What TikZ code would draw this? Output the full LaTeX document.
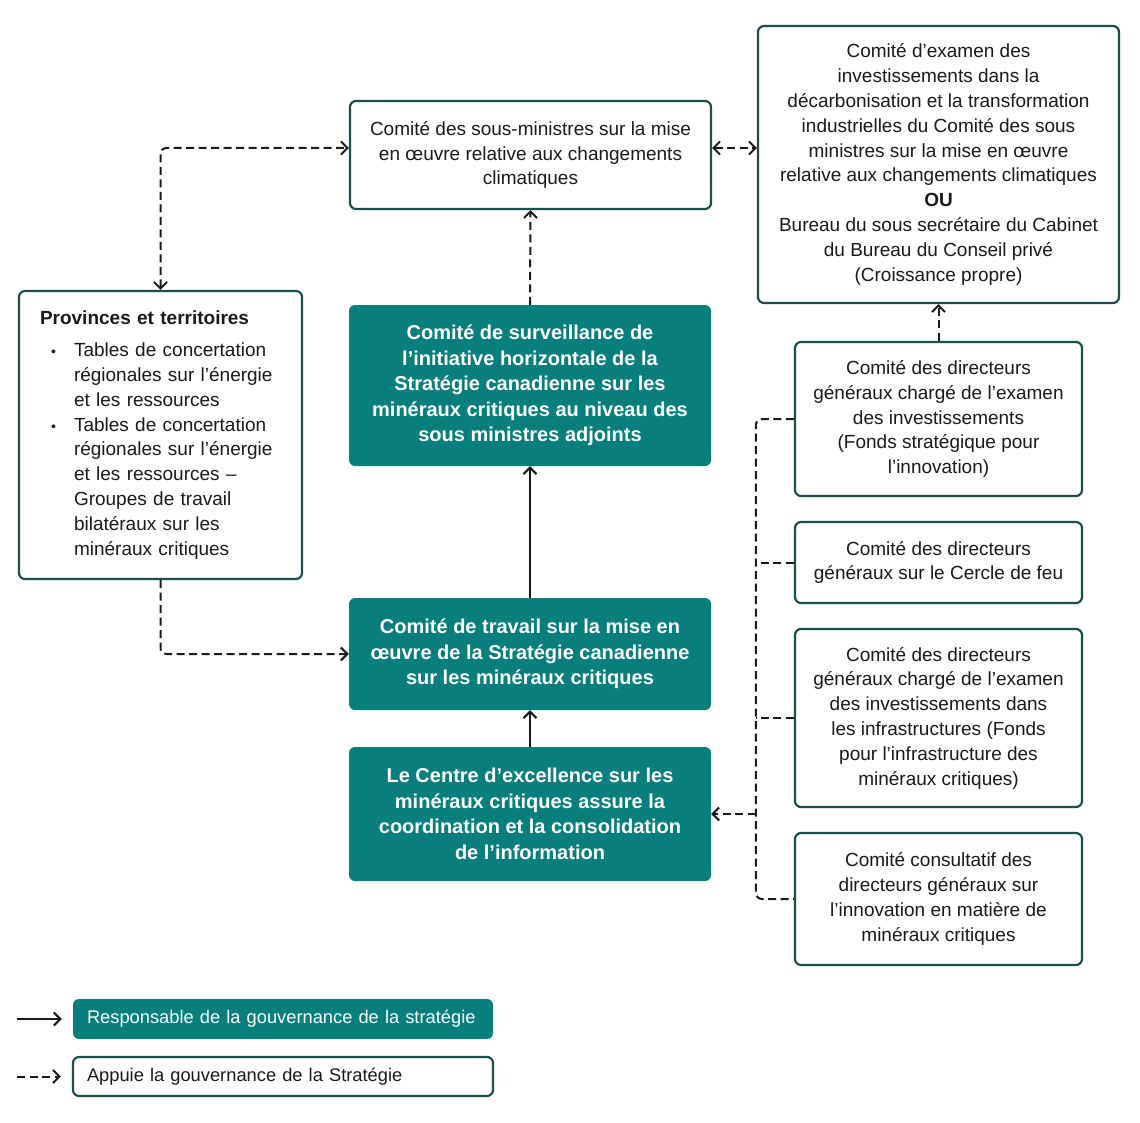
\documentclass[tikz,border=0pt]{standalone}
\usepackage{fontspec}
\setmainfont{Liberation Sans}
\usetikzlibrary{arrows.meta}
\definecolor{teal1}{HTML}{087F7D}
\definecolor{edge}{HTML}{1A4F4C}
\definecolor{ink}{HTML}{1A1A1A}
\newcommand{\bul}{\hspace*{11pt}\makebox[23pt][l]{\fontsize{14}{14}\selectfont •}}
\newcommand{\ind}{\hspace*{34pt}}
\begin{document}
\begin{tikzpicture}[x={(1pt,0pt)},y={(0pt,-1pt)},
  >={Straight Barb[length=6.5pt,width=13pt]},
  wbox/.style={draw=edge,line width=2.2pt,rounded corners=6pt,fill=white,align=center,text=ink,
    font=\fontsize{19}{24.8}\selectfont,inner sep=0pt},
  tbox/.style={fill=teal1,rounded corners=6pt,align=center,text=white,
    font=\fontsize{20}{25.5}\selectfont\bfseries,inner sep=0pt},
  legtext/.style={align=left,text width=392pt,inner xsep=14pt,font=\fontsize{18.3}{24}\selectfont},
  dashline/.style={draw=ink,line width=2pt,dash pattern=on 8pt off 4.5pt},
  solidline/.style={draw=ink,line width=2pt}]
\useasboundingbox (0,0) rectangle (1140,1123);

\node[wbox,minimum width=361pt,minimum height=108pt] (A) at (530.5,155)
  {Comité des sous-ministres sur la mise\\en œuvre relative aux changements\\climatiques};
\node[wbox,minimum width=361pt,minimum height=277pt] (B) at (938.5,164.5)
  {Comité d’examen des\\investissements dans la\\décarbonisation et la transformation\\industrielles du Comité des sous\\ministres sur la mise en œuvre\\relative aux changements climatiques\\\textbf{OU}\\Bureau du sous secrétaire du Cabinet\\du Bureau du Conseil privé\\(Croissance propre)};
\node[wbox,align=left,text width=241pt,inner xsep=21pt,minimum height=288pt] (P) at (160.5,435)
  {\textbf{Provinces et territoires}\\[7pt]
   \bul Tables de concertation\\\ind régionales sur l’énergie\\\ind et les ressources\\
   \bul Tables de concertation\\\ind régionales sur l’énergie\\\ind et les ressources –\\\ind Groupes de travail\\\ind bilatéraux sur les\\\ind minéraux critiques};

\node[tbox,minimum width=362pt,minimum height=161pt] (T1) at (530,385.5)
  {Comité de surveillance de\\l’initiative horizontale de la\\Stratégie canadienne sur les\\minéraux critiques au niveau des\\sous ministres adjoints};
\node[tbox,minimum width=362pt,minimum height=112pt] (T2) at (530,654)
  {Comité de travail sur la mise en\\œuvre de la Stratégie canadienne\\sur les minéraux critiques};
\node[tbox,minimum width=362pt,minimum height=134pt] (T3) at (530,814)
  {Le Centre d’excellence sur les\\minéraux critiques assure la\\coordination et la consolidation\\de l’information};

\node[wbox,minimum width=287pt,minimum height=154pt] (R1) at (938.5,419)
  {Comité des directeurs\\généraux chargé de l’examen\\des investissements\\(Fonds stratégique pour\\l’innovation)};
\node[wbox,minimum width=287pt,minimum height=81pt] (R2) at (938.5,562.5)
  {Comité des directeurs\\généraux sur le Cercle de feu};
\node[wbox,minimum width=287pt,minimum height=178pt] (R3) at (938.5,718)
  {Comité des directeurs\\généraux chargé de l’examen\\des investissements dans\\les infrastructures (Fonds\\pour l’infrastructure des\\minéraux critiques)};
\node[wbox,minimum width=287pt,minimum height=132pt] (R4) at (938.5,899)
  {Comité consultatif des\\directeurs généraux sur\\l’innovation en matière de\\minéraux critiques};

% legend
\node[tbox,legtext,minimum height=40pt] (LT) at (283,1019)
  {Responsable de la gouvernance de la stratégie};
\node[wbox,legtext,minimum height=39pt] (LW) at (283,1076.5)
  {Appuie la gouvernance de la Stratégie};
\coordinate (l1) at (17,1019);
\coordinate (l2) at (17,1076.5);
\draw[solidline,->,shorten >=11pt] (l1) -- (LT.west);
\draw[dashline,->,shorten >=11pt] (l2) -- (LW.west);

% connectors
\coordinate (al) at ([yshift=7pt]A.west);
\coordinate (ar) at ([yshift=7pt]A.east);
\draw[dashline,<->,rounded corners=6pt] (P.north) |- (al);
\draw[dashline,<->] (ar) -- (ar -| B.west);
\draw[dashline,->] (T1.north) -- (A.south);
\draw[dashline,->] (R1.north) -- (R1.north |- B.south);
\draw[solidline,->] (T2.north) -- (T1.south);
\draw[solidline,->] (T3.north) -- (T2.south);
\draw[dashline,->,rounded corners=6pt] (P.south) |- (T2.west);

\coordinate (bt) at ([xshift=-38pt]R1.west);
\draw[dashline,rounded corners=6pt] (R1.west) -- (bt) |- (R4.west);
\draw[dashline] (R2.west) -- (R2.west -| bt);
\draw[dashline] (R3.west) -- (R3.west -| bt);
\draw[dashline,->] (T3.east -| bt) -- (T3.east);
\end{tikzpicture}
\end{document}
